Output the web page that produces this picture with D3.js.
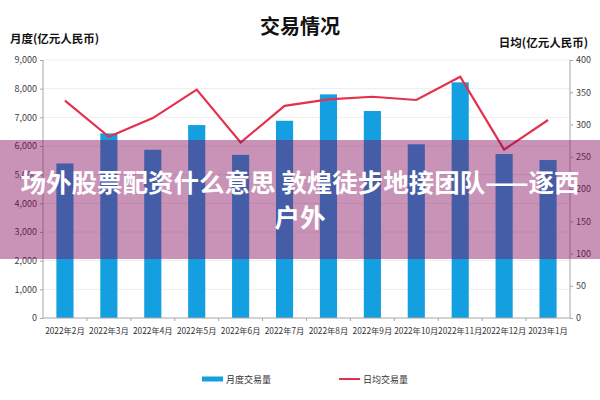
<!DOCTYPE html>
<html>
<head>
<meta charset="utf-8">
<script src="https://cdn.jsdelivr.net/npm/d3@7"></script>
<style>
body{margin:0;background:#fff;}
svg text{font-family:"Noto Sans CJK SC","Noto Sans",sans-serif;}
</style>
</head>
<body>
<svg id="chart" width="600" height="400"></svg>
<script>
// 月份
var months = ["2022年2月","2022年3月","2022年4月","2022年5月","2022年6月","2022年7月","2022年8月","2022年9月","2022年10月","2022年11月","2022年12月","2023年1月"];
// 月度交易量(亿元)
var monthly = [5390, 6440, 5870, 6730, 5690, 6880, 7800, 7220, 6060, 8220, 5720, 5510];
// 日均交易量(亿元)
var daily = [337, 281, 310, 354, 272, 329, 339, 343, 338, 374, 261, 307];
var leftTicks = [0,1000,2000,3000,4000,5000,6000,7000,8000,9000];
var rightTicks = [0,50,100,150,200,250,300,350,400];

var barColor = "#149fe0";
var lineColor = "#e5304d";

var svg = d3.select("#chart");
var pLeft = 43, pRight = 570, pTop = 60, pBottom = 318;

var x = d3.scaleBand()
    .domain(months)
    .range([pLeft, pRight])
    .paddingInner(0.61)
    .paddingOuter(0.305);
var xb = d3.scaleBand().domain(months).range([pLeft, pRight]);
var y = d3.scaleLinear().domain([0, 9000]).range([pBottom, pTop]);
var y2 = d3.scaleLinear().domain([0, 400]).range([pBottom, pTop]);

// グリッド
svg.append("g")
    .selectAll("line")
    .data(leftTicks.slice(1))
    .enter().append("line")
    .attr("x1", pLeft).attr("x2", pRight)
    .attr("y1", function(d){ return y(d); })
    .attr("y2", function(d){ return y(d); })
    .style("stroke", "#ececec")
    .style("stroke-width", 1);

// 棒
svg.append("g")
    .selectAll("rect")
    .data(monthly)
    .enter().append("rect")
    .attr("x", function(d, i){ return x(months[i]); })
    .attr("width", x.bandwidth())
    .attr("y", function(d){ return y(d); })
    .attr("height", function(d){ return pBottom - y(d); })
    .attr("fill", barColor);

// 折れ線
var line = d3.line()
    .x(function(d, i){ return xb(months[i]) + xb.bandwidth() / 2; })
    .y(function(d){ return y2(d); });
svg.append("path")
    .datum(daily)
    .attr("d", line)
    .attr("fill", "none")
    .style("stroke", lineColor)
    .style("stroke-width", 2.2);

// 軸
var axisColor = "#a6a6a6";
var ya = svg.append("g")
    .attr("transform", "translate(" + pLeft + ",0)")
    .call(d3.axisLeft(y).tickValues(leftTicks).tickSize(3).tickFormat(d3.format(",")));
var yb = svg.append("g")
    .attr("transform", "translate(" + pRight + ",0)")
    .call(d3.axisRight(y2).tickValues(rightTicks).tickSize(3));
var xa = svg.append("g")
    .attr("transform", "translate(0," + pBottom + ")")
    .call(d3.axisBottom(xb).tickSize(0));
xa.selectAll(".tick text").attr("dy", "1.6em");
xa.selectAll(".sep")
    .data(months.slice(1))
    .enter().append("line")
    .attr("x1", function(d){ return xb(d); })
    .attr("x2", function(d){ return xb(d); })
    .attr("y1", 0).attr("y2", 3)
    .style("stroke", axisColor);

[ya, yb, xa].forEach(function(g){
    g.selectAll("path.domain").style("stroke", axisColor);
    g.selectAll(".tick line").style("stroke", axisColor);
    g.selectAll("text")
        .style("font-family", "'Noto Sans CJK SC',sans-serif")
        .style("font-size", "9px")
        .style("fill", "#404040");
});
ya.select("path.domain").attr("d", "M0," + pTop + "V" + pBottom);
yb.select("path.domain").attr("d", "M0," + pTop + "V" + pBottom);
xa.select("path.domain").attr("d", "M" + pLeft + ",0H" + pRight);
xa.selectAll(".tick text").style("font-size", "8.3px").style("fill", "#333");

// タイトル
svg.append("text")
    .attr("x", 300).attr("y", 34)
    .attr("text-anchor", "middle")
    .style("font-size", "20px").style("font-weight", "bold").style("fill", "#111")
    .text("交易情况");
svg.append("text")
    .attr("x", 10).attr("y", 43)
    .style("font-size", "11.5px").style("font-weight", "bold").style("fill", "#111")
    .text("月度(亿元人民币)");
svg.append("text")
    .attr("x", 588).attr("y", 47)
    .attr("text-anchor", "end")
    .style("font-size", "11.5px").style("font-weight", "bold").style("fill", "#111")
    .text("日均(亿元人民币)");

// 凡例
var legend = [
    {name: "月度交易量", type: "bar", x: 202},
    {name: "日均交易量", type: "line", x: 339}
];
var lg = svg.append("g").selectAll("g")
    .data(legend)
    .enter().append("g")
    .attr("transform", function(d){ return "translate(" + d.x + ",379)"; });
lg.filter(function(d){ return d.type == "bar"; })
    .append("rect")
    .attr("x", 0).attr("y", -2.5).attr("width", 21).attr("height", 5)
    .attr("fill", barColor);
lg.filter(function(d){ return d.type == "line"; })
    .append("line")
    .attr("x1", 0).attr("x2", 21).attr("y1", 0).attr("y2", 0)
    .style("stroke", lineColor).style("stroke-width", 2);
lg.append("text")
    .attr("x", 24).attr("y", 3.5)
    .style("font-size", "9px").style("fill", "#333")
    .text(function(d){ return d.name; });

// 透かし帯
svg.append("rect")
    .attr("x", 0).attr("y", 140).attr("width", 600).attr("height", 119)
    .attr("fill", "rgb(130,8,90)")
    .attr("fill-opacity", 0.44);
var wm = ["场外股票配资什么意思 敦煌徒步地接团队——逐西", "户外"];
svg.append("g").selectAll("text")
    .data(wm)
    .enter().append("text")
    .attr("x", 300)
    .attr("y", function(d, i){ return 192 + i * 35; })
    .attr("text-anchor", "middle")
    .style("font-size", "25.5px").style("font-weight", "bold").style("fill", "#fff")
    .text(function(d){ return d; });
</script>
</body>
</html>
